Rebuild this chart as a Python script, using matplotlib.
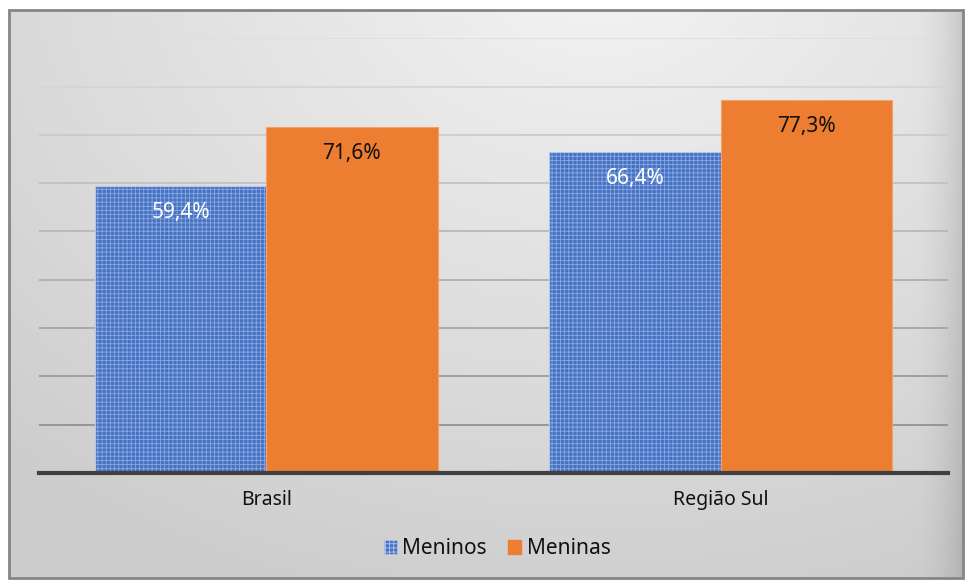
import numpy as np
import matplotlib.pyplot as plt
from matplotlib.patches import Rectangle, Patch

plt.rcParams['font.family'] = ['Noto Sans', 'DejaVu Sans']
plt.rcParams['hatch.linewidth'] = 0.6

# data
categories = ['Brasil', 'Região Sul']
meninos = [59.4, 66.4]
meninas = [71.6, 77.3]
series_names = ['Meninos', 'Meninas']

W, H = 966, 580
fig = plt.figure(figsize=(W / 100, H / 100), dpi=100)
fig.patch.set_facecolor('white')

# background gradient inside the chart frame
bg = fig.add_axes([0, 0, 1, 1], zorder=-10)
bg.set_xlim(0, W)
bg.set_ylim(H, 0)
bg.axis('off')
x0, y0, x1, y1 = 9, 10, 963, 578
xx, yy = np.meshgrid(np.linspace(x0, x1, 300), np.linspace(y0, y1, 200))
d = np.sqrt(((xx - 600) / 1.1) ** 2 + ((yy + 40) * 1.2) ** 2)
d = np.clip(d / 800, 0, 1)
shade = 0.955 - 0.15 * d
edge = np.clip((xx - 910) / 53, 0, 1)
shade = shade - 0.1 * edge ** 2
img = np.dstack([shade, shade, shade])
bg.imshow(img, extent=[x0, x1, y1, y0], aspect='auto', interpolation='bilinear')
bg.add_patch(Rectangle((x0, y0), x1 - x0, y1 - y0, fill=False,
                       edgecolor='#858585', linewidth=2))

left, right = 39 / W, 948 / W
bottom, top = 1 - 473 / H, 1 - 38.3 / H
ax = fig.add_axes([left, bottom, right - left, top - bottom])
ax.patch.set_alpha(0)

x = np.arange(len(categories))
width = 0.377
blue = '#4472C4'
orange = '#ED7D31'

ax.set_ylim(0, 90)
ax.set_xlim(-0.5, len(categories) - 0.5)

# gridlines, darker toward the bottom like the reference
for v in np.arange(10, 91, 10):
    t = (v - 10) / 80
    c = 0.55 + 0.32 * t
    ax.axhline(v, color=(c, c, c), linewidth=1.2, zorder=0)

b1 = ax.bar(x - width / 2, meninos, width, color=blue, edgecolor='#b4c6ea',
            linewidth=0.8, hatch='++++', zorder=2)
for p in b1:
    p._hatch_color = (0.55, 0.66, 0.87, 1.0)
b2 = ax.bar(x + width / 2, meninas, width, color=orange, edgecolor='#f4a06a',
            linewidth=0.8, zorder=2)

for rect, v in zip(b1, meninos):
    ax.text(rect.get_x() + rect.get_width() / 2, v - 5.5, f'{v:.1f}%'.replace('.', ','),
            ha='center', va='center', color='white', fontsize=15, zorder=3)
for rect, v in zip(b2, meninas):
    ax.text(rect.get_x() + rect.get_width() / 2, v - 5.5, f'{v:.1f}%'.replace('.', ','),
            ha='center', va='center', color='#111111', fontsize=15, zorder=3)

ax.axhline(0, color='#404040', linewidth=3, zorder=4, clip_on=False)

ax.set_xticks(x)
ax.set_xticklabels(categories, fontsize=14, color='#111111')
ax.tick_params(axis='x', length=0, pad=12)
ax.set_yticks([])
for s in ax.spines.values():
    s.set_visible(False)

h1 = Patch(facecolor=blue, edgecolor='#b4c6ea', hatch='++++', linewidth=0.5)
h2 = Patch(facecolor=orange, edgecolor=orange)
leg = fig.legend([h1, h2], series_names, loc='center', bbox_to_anchor=(497 / W, 1 - 549 / H),
                 ncol=2, frameon=False, fontsize=15, handlelength=0.65, handleheight=0.65,
                 handletextpad=0.25, columnspacing=1.0)
for t in leg.get_texts():
    t.set_color('#111111')

fig.savefig('out.png', dpi=100)
